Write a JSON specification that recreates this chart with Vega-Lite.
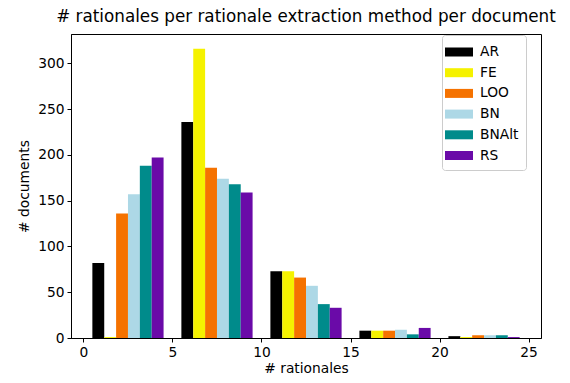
{
  "$schema": "https://vega.github.io/schema/vega-lite/v6.json",
  "width": 470,
  "height": 304,
  "autosize": "none",
  "padding": {"left": 71, "top": 34, "right": 29, "bottom": 45},
  "background": "white",
  "title": {"text": "# rationales per rationale extraction method per document", "font": "DejaVu Sans", "fontSize": 16.8, "fontWeight": "normal", "color": "black", "offset": 8, "anchor": "middle", "frame": "group"},
  "config": {
    "view": {"stroke": "black", "strokeWidth": 1},
    "axis": {"labelFont": "DejaVu Sans", "titleFont": "DejaVu Sans", "labelFontSize": 13.8, "titleFontSize": 13.8, "titleFontWeight": "normal", "labelColor": "black", "titleColor": "black", "tickColor": "black", "domainColor": "black", "tickSize": 4, "grid": false, "labelPadding": 3}
  },
  "data": {"values": [
    {"bin": 0, "method": "AR", "count": 82},
    {"bin": 0, "method": "FE", "count": 1},
    {"bin": 0, "method": "LOO", "count": 136},
    {"bin": 0, "method": "BN", "count": 157},
    {"bin": 0, "method": "BNAlt", "count": 188},
    {"bin": 0, "method": "RS", "count": 197},
    {"bin": 5, "method": "AR", "count": 236},
    {"bin": 5, "method": "FE", "count": 316},
    {"bin": 5, "method": "LOO", "count": 186},
    {"bin": 5, "method": "BN", "count": 174},
    {"bin": 5, "method": "BNAlt", "count": 168},
    {"bin": 5, "method": "RS", "count": 159},
    {"bin": 10, "method": "AR", "count": 73},
    {"bin": 10, "method": "FE", "count": 73},
    {"bin": 10, "method": "LOO", "count": 66},
    {"bin": 10, "method": "BN", "count": 57},
    {"bin": 10, "method": "BNAlt", "count": 37},
    {"bin": 10, "method": "RS", "count": 33},
    {"bin": 15, "method": "AR", "count": 8},
    {"bin": 15, "method": "FE", "count": 8},
    {"bin": 15, "method": "LOO", "count": 8},
    {"bin": 15, "method": "BN", "count": 9},
    {"bin": 15, "method": "BNAlt", "count": 4},
    {"bin": 15, "method": "RS", "count": 11},
    {"bin": 20, "method": "AR", "count": 2},
    {"bin": 20, "method": "FE", "count": 1},
    {"bin": 20, "method": "LOO", "count": 3},
    {"bin": 20, "method": "BN", "count": 3},
    {"bin": 20, "method": "BNAlt", "count": 3},
    {"bin": 20, "method": "RS", "count": 1}
  ]},
  "layer": [
    {
      "mark": {"type": "bar"},
      "encoding": {
        "x": {"field": "bin", "type": "ordinal", "sort": [0, 5, 10, 15, 20],
          "scale": {"type": "band", "paddingInner": 0, "paddingOuter": 0.14},
          "axis": null},
        "xOffset": {"field": "method", "type": "nominal",
          "sort": ["AR", "FE", "LOO", "BN", "BNAlt", "RS"],
          "scale": {"paddingInner": 0, "paddingOuter": 0.75}},
        "y": {"field": "count", "type": "quantitative", "title": "# documents", "stack": null,
          "scale": {"domain": [0, 332], "nice": false},
          "axis": {"values": [0, 50, 100, 150, 200, 250, 300], "titlePadding": 6}},
        "color": {"field": "method", "type": "nominal", "title": null,
          "sort": ["AR", "FE", "LOO", "BN", "BNAlt", "RS"],
          "scale": {"domain": ["AR", "FE", "LOO", "BN", "BNAlt", "RS"], "range": ["#000000", "#f5f200", "#f57200", "#add8e6", "#008b8b", "#6a0aa8"]},
          "legend": {"orient": "none", "legendX": 371, "legendY": 1, "symbolType": "M-1.4,-0.45h2.8v0.9h-2.8z", "symbolSize": 400, "symbolStrokeWidth": 0, "labelFont": "DejaVu Sans", "labelFontSize": 13.8, "labelColor": "black", "rowPadding": 3.7, "padding": 7, "strokeColor": "#cccccc", "fillColor": "white", "cornerRadius": 3, "labelOffset": 11}}
      }
    },
    {
      "mark": {"type": "rule", "opacity": 0},
      "encoding": {
        "x": {"field": "bin", "type": "quantitative", "title": "# rationales",
          "scale": {"domain": [-0.7, 25.7], "nice": false, "zero": false},
          "axis": {"values": [0, 5, 10, 15, 20, 25], "titlePadding": 3}}
      }
    }
  ],
  "resolve": {"scale": {"x": "independent"}}
}
